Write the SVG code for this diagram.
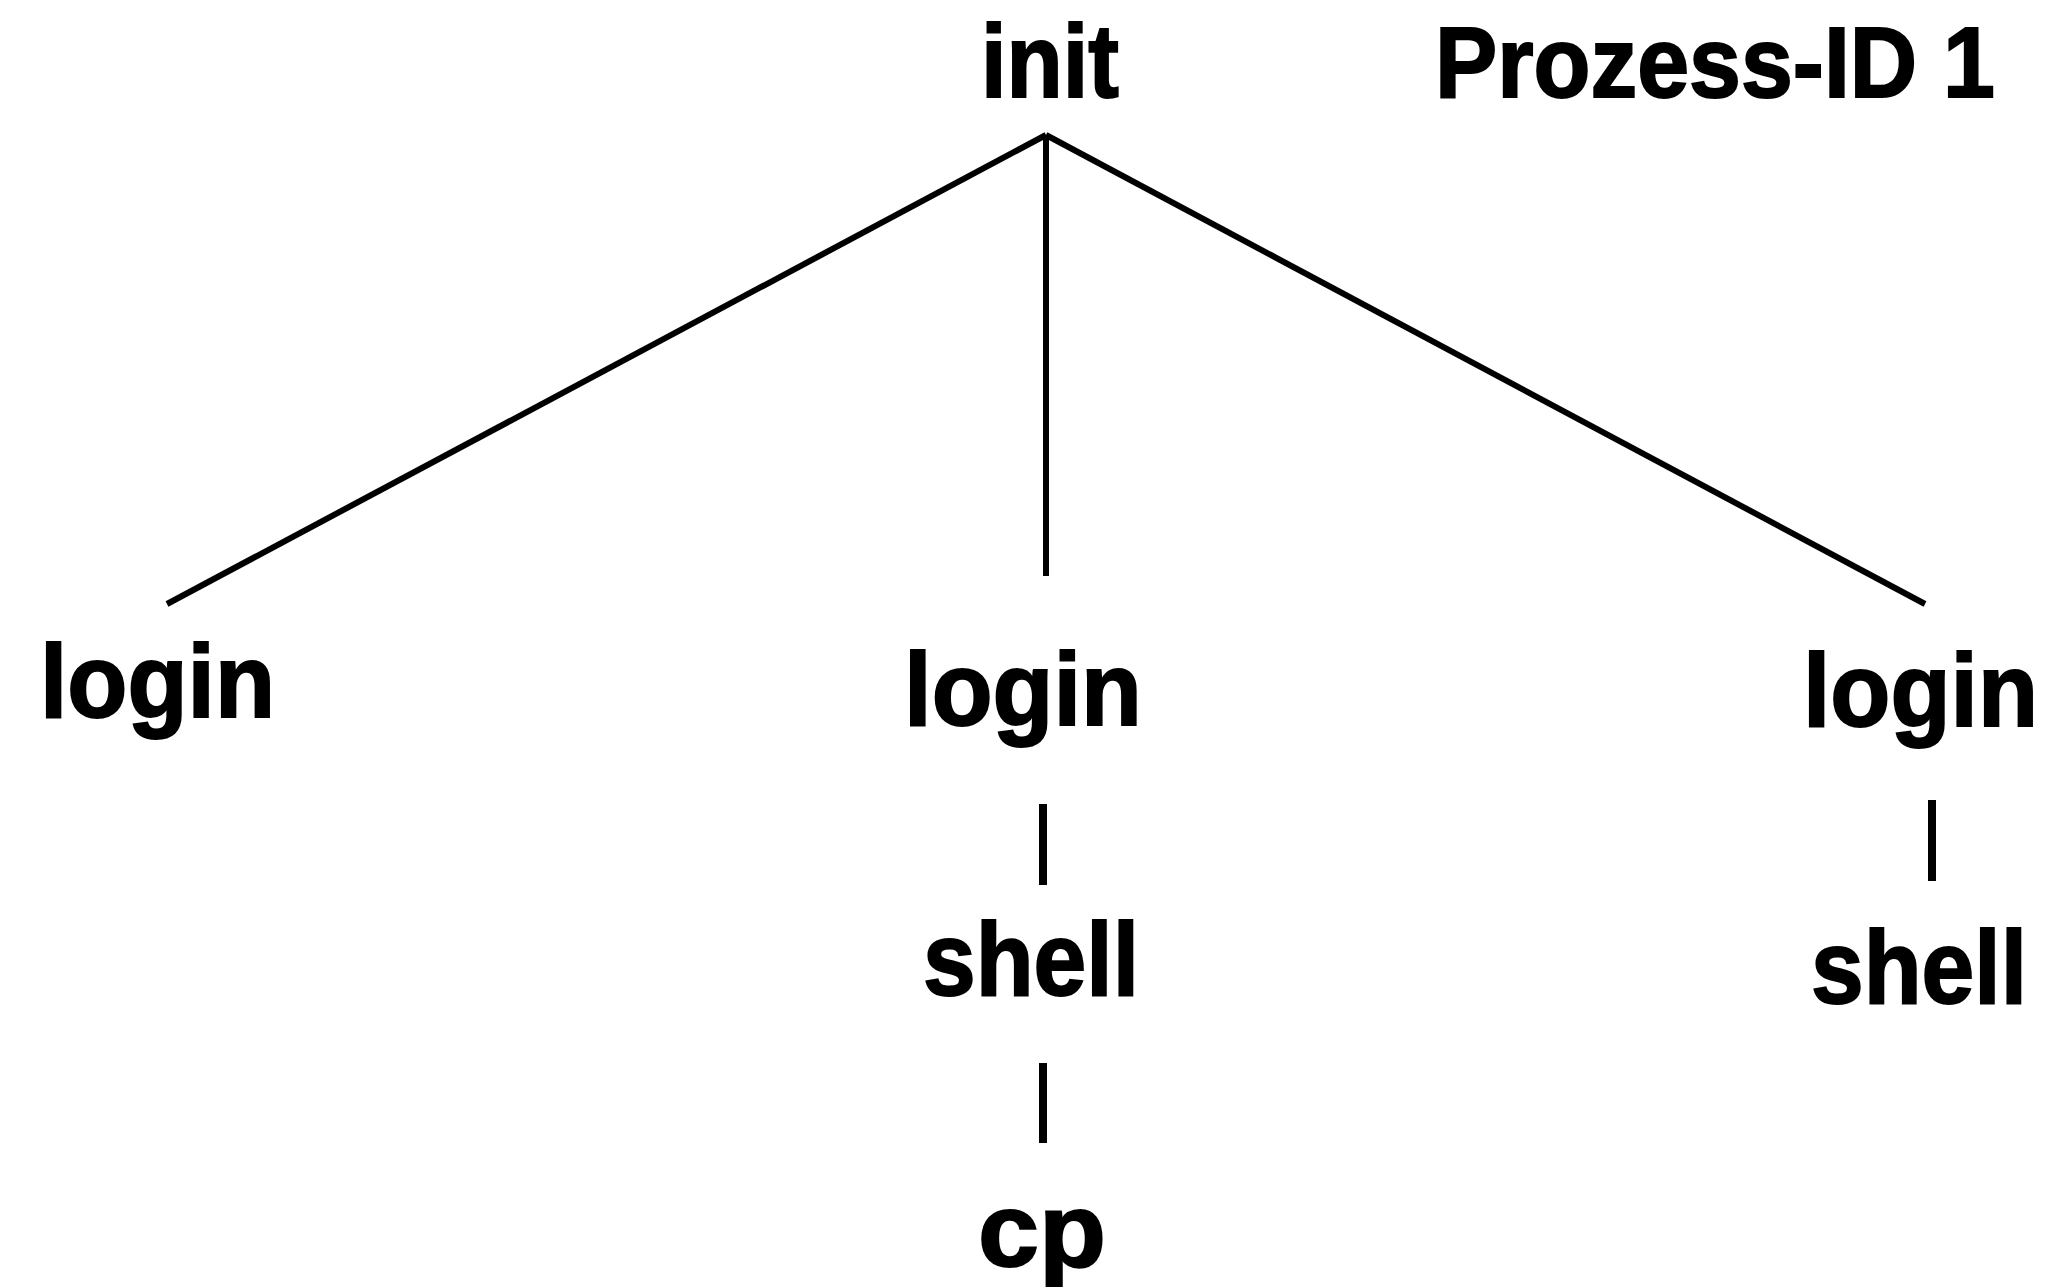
<svg xmlns="http://www.w3.org/2000/svg" width="2054" height="1287" viewBox="0 0 2054 1287">
<style>
text{font-family:"Liberation Sans",Arial,sans-serif;font-weight:bold;font-size:104px;fill:#000;stroke:#000;stroke-width:2}
.c{stroke:#000;stroke-width:6;fill:none}
.b{stroke:#000;stroke-width:8;fill:none}
</style>
<rect width="2054" height="1287" fill="#fff"/>
<g id="connectors">
<line class="c" x1="1046" y1="135" x2="167" y2="604"/>
<line class="c" x1="1046" y1="135" x2="1925" y2="604"/>
<line class="c" x1="1046" y1="135" x2="1046" y2="576"/>
<line class="b" x1="1043" y1="804" x2="1043" y2="885"/>
<line class="b" x1="1043" y1="1063" x2="1043" y2="1143"/>
<line class="b" x1="1932" y1="800" x2="1932" y2="881"/>
</g>
<g id="init"><text x="981" y="97" textLength="138" lengthAdjust="spacingAndGlyphs">init</text></g>
<g id="pid"><text x="1435" y="97" font-size="100" style="font-size:100px" textLength="560" lengthAdjust="spacingAndGlyphs">Prozess-ID 1</text></g>
<g id="login1"><text x="40" y="717" textLength="235" lengthAdjust="spacingAndGlyphs">login</text></g>
<g id="login2"><text x="904" y="725" textLength="238" lengthAdjust="spacingAndGlyphs">login</text></g>
<g id="login3"><text x="1803" y="726" textLength="235" lengthAdjust="spacingAndGlyphs">login</text></g>
<g id="shell2"><text x="923" y="995" textLength="216" lengthAdjust="spacingAndGlyphs">shell</text></g>
<g id="shell3"><text x="1811" y="1003" textLength="216" lengthAdjust="spacingAndGlyphs">shell</text></g>
<g id="cp"><text x="978" y="1266" textLength="128" lengthAdjust="spacingAndGlyphs">cp</text></g>
</svg>
